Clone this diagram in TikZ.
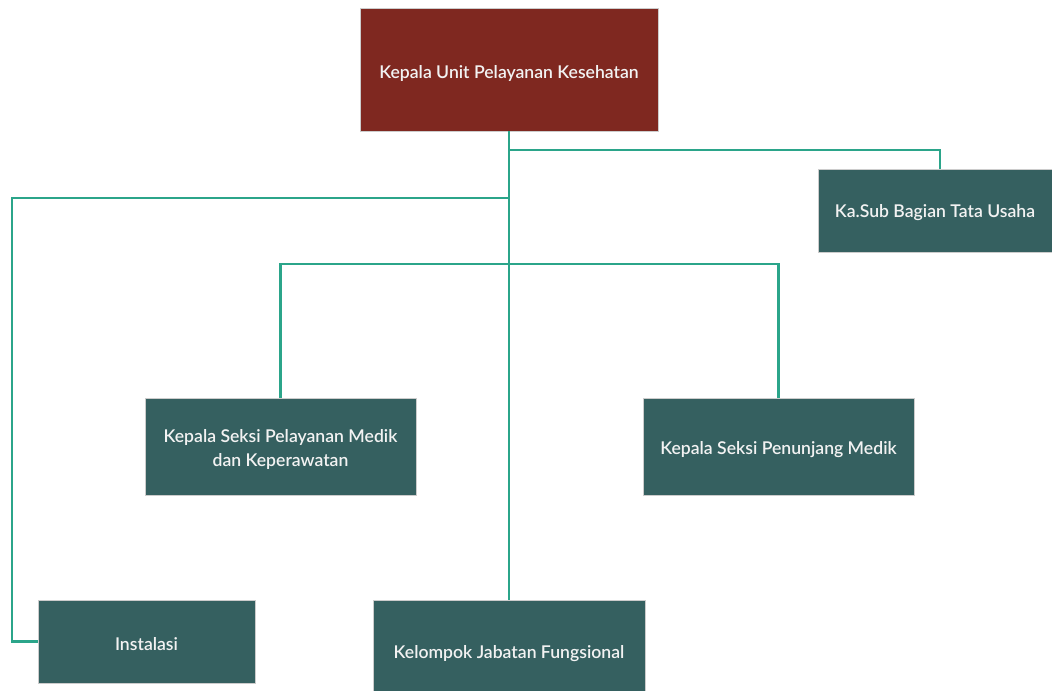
\documentclass[tikz,border=0pt]{standalone}
\usepackage{fontspec}
\setmainfont{Lato}[BoldFont={Lato Semibold}]
\usetikzlibrary{positioning, calc}
\definecolor{headred}{HTML}{7F2820}
\definecolor{unitgreen}{HTML}{356060}
\definecolor{linkteal}{HTML}{2BA58A}
\newcommand{\dropline}[2][2pt]{\raisebox{-#1}[\height][\depth]{#2}}

\begin{document}
\begin{tikzpicture}[
  x=0.75pt, y=-0.75pt,
  font=\fontsize{13.2}{16.5}\selectfont\bfseries,
  box/.style={draw=white!80!black, line width=0.3pt, text=white!95!black, align=center, inner sep=4pt},
  head/.style={box, fill=headred, minimum width=223.5pt, minimum height=92pt},
  unit/.style={box, fill=unitgreen, minimum height=62pt},
  link/.style={draw=linkteal, line width=1.6pt},
]
\useasboundingbox (0,0) rectangle (1052,690);
% ---- top ----
\node[head] (kepala) at (509,69.5) {\dropline[3pt]{Kepala Unit Pelayanan Kesehatan}};
\node[unit, minimum width=175.5pt] (tu) at (935,210.5) {\dropline[1.5pt]{Ka.Sub Bagian Tata Usaha}};
% ---- seksi ----
\node[unit, minimum width=203pt, minimum height=72.75pt] (medik) at (280.5,446.5)
  {\dropline{Kepala Seksi Pelayanan Medik}\\[1.5pt] \dropline{dan Keperawatan}};
\node[unit, minimum width=203pt, minimum height=72.75pt] (penunjang) at (778.5,446.5)
  {\dropline{Kepala Seksi Penunjang Medik}};
% ---- bottom ----
\node[unit, minimum width=162.75pt] (instalasi) at (146.5,641.5) {\dropline{Instalasi}};
\node[unit, minimum width=204pt, minimum height=76.5pt] (kelompok) at (509,651)
  {\dropline{Kelompok Jabatan Fungsional}};
% ---- bus points ----
\coordinate (busTU) at (509,150);
\coordinate (busInst) at (509,198);
\coordinate (busSeksi) at (509,264);
\coordinate (leftRail) at (12,198);
% ---- edges ----
\draw[link] (kepala.south) -- (kelompok.north);
\draw[link] (busTU) -| ([xshift=3.75pt]tu.north);
\draw[link] (busInst) -- (leftRail) |- (instalasi.west);
\draw[link] (medik.north) |- (busSeksi) -| (penunjang.north);
\end{tikzpicture}
\end{document}
